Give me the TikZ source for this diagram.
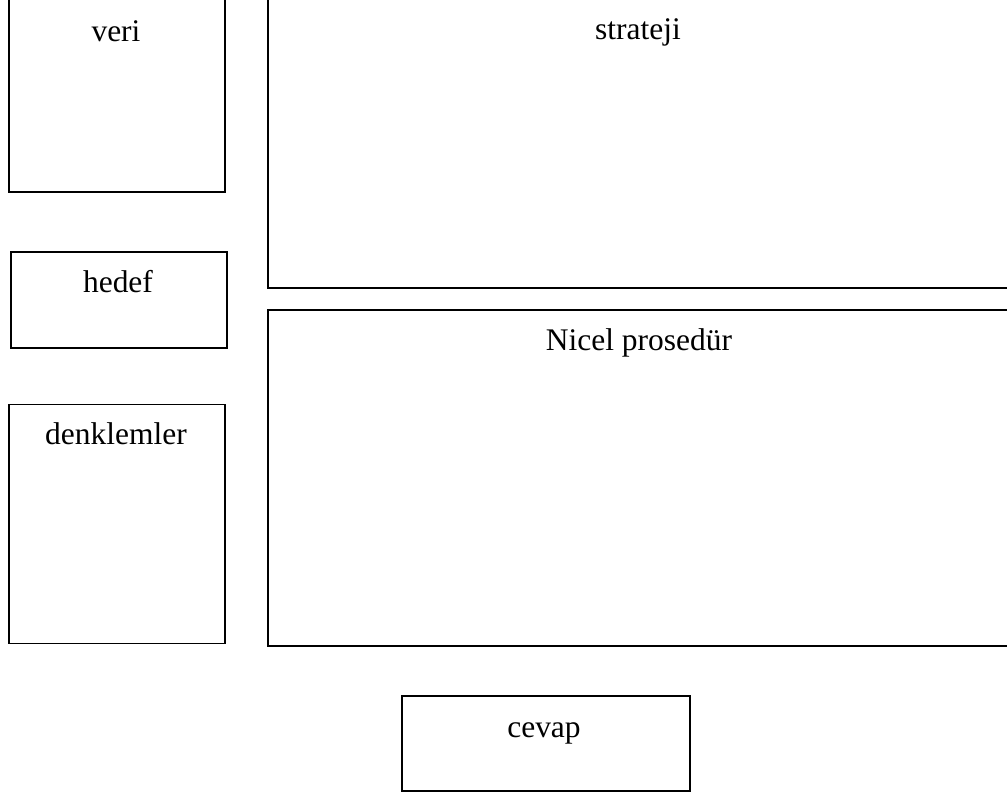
\documentclass[tikz,border=0pt]{standalone}
\usepackage{fontspec}
\setmainfont{Liberation Serif}
\begin{document}
\begin{tikzpicture}[x=0.75pt,y=-0.75pt,
  box/.style={draw=black,line width=1.4pt,rectangle,inner sep=0pt,anchor=north west},
  lbl/.style={inner sep=0pt,anchor=base,font=\fontsize{23.6}{28}\selectfont}]
\useasboundingbox (0,0) rectangle (1007,796);
\clip (0,0) rectangle (1007,796);
% left column
\node[box,minimum width=216*0.75pt,minimum height=194*0.75pt] (veri) at (8,-3) {};
\node[lbl] (veriT) at (116,41) {veri};
\node[box,minimum width=216*0.75pt,minimum height=96*0.75pt] (hedef) at (10,251) {};
\node[lbl] (hedefT) at (118,292.5) {hedef};
\node[box,minimum width=216*0.75pt,minimum height=239*0.75pt] (denk) at (8,403.5) {};
\node[lbl] (denkT) at (116,444) {denklemler};
% right column
\node[box,minimum width=745*0.75pt,minimum height=290*0.75pt] (strat) at (267,-3) {};
\node[lbl] (stratT) at (638,39) {strateji};
\node[box,minimum width=745*0.75pt,minimum height=336*0.75pt] (nicel) at (267,309) {};
\node[lbl] (nicelT) at (639,350) {Nicel prosedür};
% bottom
\node[box,minimum width=288*0.75pt,minimum height=95*0.75pt] (cevap) at (401,695) {};
\node[lbl] (cevapT) at (544,737) {cevap};
\end{tikzpicture}
\end{document}
